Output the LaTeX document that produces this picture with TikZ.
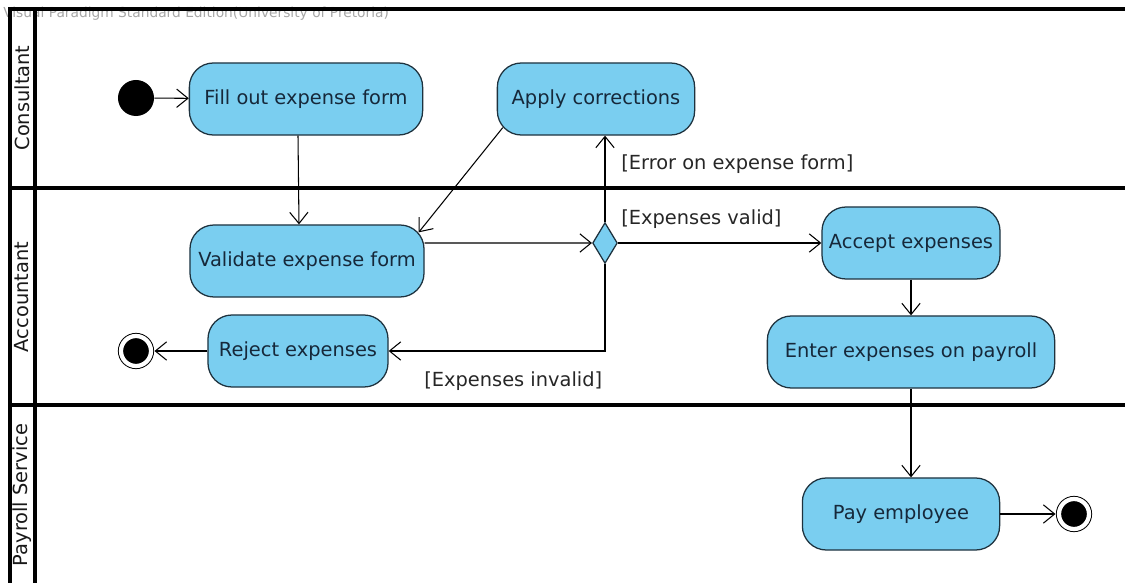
\documentclass[tikz,border=0pt]{standalone}
\usepackage{fontspec}
\setmainfont{DejaVu Sans}
\usetikzlibrary{arrows.meta, positioning, shapes.geometric}

\definecolor{actfill}{RGB}{122,206,240}
\definecolor{actline}{RGB}{30,50,62}
\definecolor{acttext}{RGB}{22,40,58}

\begin{document}
\begin{tikzpicture}[x=0.025cm, y=-0.025cm]
	\tikzset {>={Straight Barb[length=8pt, width=13pt]}, flow/.style={->, line width=0.75pt},
		action/.style={draw=actline, line width=0.9pt, fill=actfill, text=acttext, rounded corners=0.6cm, minimum height=1.8cm, font=\fontsize{13.8}{15}\selectfont},
		guard/.style={anchor=west, text=black!85, inner sep=0, font=\fontsize{13.8}{15}\selectfont},
		lane/.style={line width=2.2pt},
		lanename/.style={rotate=90, text=black!90, font=\fontsize{13.8}{15}\selectfont},
		initial/.style={circle, fill=black, minimum size=0.9cm, inner sep=0},
		final/.style={circle, draw, fill=black, double, double distance=3pt, line width=0.7pt, minimum size=0.75cm, inner sep=0, outer sep=2.5pt},
		choice/.style={diamond, draw=actline, line width=0.9pt, fill=actfill, minimum width=0.62cm, minimum height=1.02cm, inner sep=0} }
	\useasboundingbox (0,0) rectangle (1125,583);

	% watermark
	\node[anchor=west, text=black!35, inner sep=0, font=\fontsize{9.8}{11}\selectfont] (mark) at (3,14) {Visual Paradigm Standard Edition(University of Pretoria)};

	% swimlanes
	\draw[lane] (1125,9) -- (10,9) -- (10,583);
	\draw[lane] (35,9) -- (35,583);
	\draw[lane] (10,188) -- (1125,188);
	\draw[lane] (10,405) -- (1125,405);
	\node[lanename] (consultant) at (22,98) {Consultant};
	\node[lanename] (accountant) at (22,297) {Accountant};
	\node[lanename] (payroll) at (22,495) {Payroll Service};

	% consultant
	\node[initial] (start) at (136,98) {};
	\node[action, minimum width=5.83cm] (fill) at (306,99) {Fill out expense form};
	\node[action, minimum width=4.93cm] (apply) at (596,99) {Apply corrections};

	% accountant
	\node[action, minimum width=5.85cm] (validate) at (307,261) {Validate expense form};
	\node[choice] (check) at (605,243) {};
	\node[action, minimum width=4.45cm] (accept) at (911,243) {Accept expenses};
	\node[action, minimum width=7.18cm] (enter) at (911,352) {Enter expenses on payroll};
	\node[action, minimum width=4.5cm] (reject) at (298,351) {Reject expenses};
	\node[final] (endA) at (136,351) {};

	% payroll service
	\node[action, minimum width=4.93cm] (pay) at (901,514) {Pay employee};
	\node[final] (endP) at (1074,514) {};

	% guards
	\node[guard] (errguard) at (621,164) {[Error on expense form]};
	\node[guard] (validguard) at (621,219) {[Expenses valid]};
	\node[guard] (invalidguard) at (424,381) {[Expenses invalid]};

	\draw[flow] (start) -- (fill);
	\draw[flow] ([xshift=-0.2cm]fill.south) -- ([xshift=-0.2cm]validate.north);
	\draw[flow] ([shift={(0.15cm,0.2cm)}]apply.south west) -- ([shift={(-0.15cm,-0.2cm)}]validate.north east);
	\draw[flow] ([yshift=0.45cm]validate.east) -- (check.west);
	\draw[flow] (check.north) -- (check.north |- apply.south);
	\draw[flow] (check.east) -- (accept.west);
	\draw[flow] (check.south) |- (reject.east);
	\draw[flow] (reject) -- (endA);
	\draw[flow] (accept) -- (enter);
	\draw[flow] (enter.south) -- (enter.south |- pay.north);
	\draw[flow] (pay) -- (endP);
\end{tikzpicture}
\end{document}
